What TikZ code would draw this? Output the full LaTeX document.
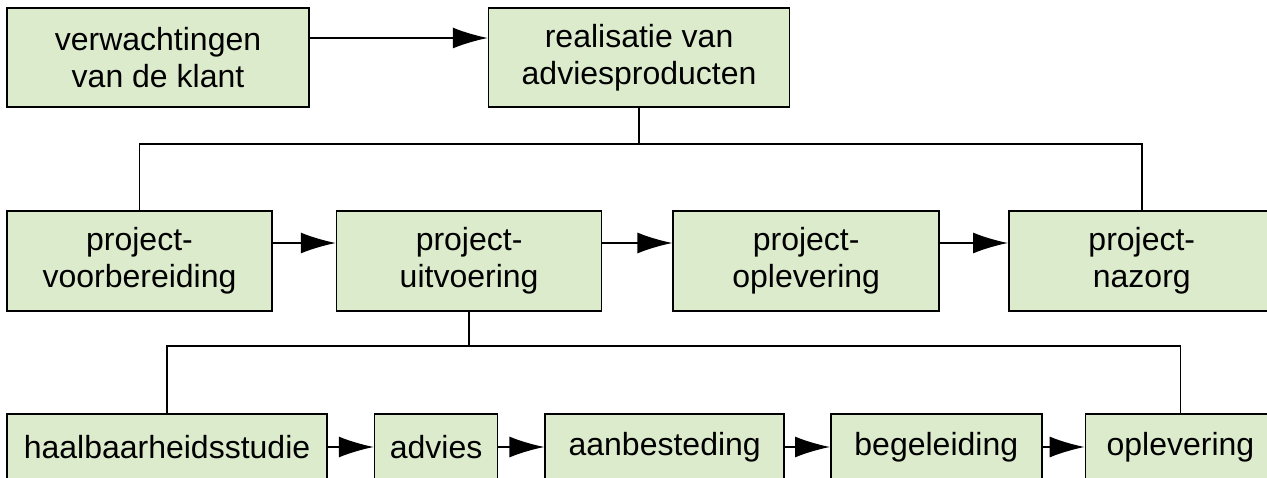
\documentclass[tikz,border=0pt]{standalone}
\usepackage{fontspec}
\setmainfont{Liberation Sans}
\usetikzlibrary{positioning,arrows.meta}
\definecolor{boxgreen}{RGB}{221,235,205}
\begin{document}
\begin{tikzpicture}[x=1pt, y=-1pt, node distance=63pt]
	\tikzset{b/.style={draw=black, fill=boxgreen, line width=1.6pt, align=center, inner sep=0pt,
		font=\fontsize{32}{37}\selectfont, minimum height=99pt},
	f/.style={-{Latex[length=35pt,width=21pt]}, line width=1.6pt},
	l/.style={line width=1.6pt}};

	\useasboundingbox (0,0) rectangle (1267,478);
	\clip (0,0) rectangle (1267,478);

	% top row
	\node[b, minimum width=302pt] (verw) at (158,57.5) {verwachtingen\\van de klant};
	\node[b, minimum width=301pt, right=178pt of verw] (real) {realisatie van\\adviesproducten};

	% project phases
	\node[b, minimum width=265pt, minimum height=100pt] (voor) at (139.5,261) {project-\\voorbereiding};
	\node[b, minimum width=265pt, minimum height=100pt, right=63pt of voor] (uitv) {project-\\uitvoering};
	\node[b, minimum width=266pt, minimum height=100pt, right=70pt of uitv] (oplv) {project-\\oplevering};
	\node[b, minimum width=266pt, minimum height=100pt, right=68pt of oplv] (naz) {project-\\nazorg};

	% execution steps
	\node[b, minimum width=320pt, minimum height=66pt] (haal) at (167,447) {haalbaarheidsstudie};
	\node[b, minimum width=123pt, minimum height=66pt, right=46pt of haal] (adv) {advies};
	\node[b, minimum width=239pt, minimum height=66pt, right=46pt of adv] (aanb) {aanbesteding};
	\node[b, minimum width=211pt, minimum height=66pt, right=45pt of aanb] (beg) {begeleiding};
	\node[b, minimum width=190pt, minimum height=66pt, right=42pt of beg] (opl) {oplevering};

	\draw[f] ([yshift=19.5pt]verw.east) -- ([yshift=19.5pt]real.west);

	\draw[l] (real.south) -- ++(0,36) -| (voor.north);
	\draw[l] (real.south) -- ++(0,36) -| (naz.north);

	\draw[f] ([yshift=18pt]voor.east) -- ([yshift=18pt]uitv.west);
	\draw[f] ([yshift=18pt]uitv.east) -- ([yshift=18pt]oplv.west);
	\draw[f] ([yshift=18pt]oplv.east) -- ([yshift=18pt]naz.west);

	\draw[l] (uitv.south) -- ++(0,34) -| (haal.north);
	\draw[l] (uitv.south) -- ++(0,34) -| (opl.north);

	\draw[f] (haal) -- (adv);
	\draw[f] (adv) -- (aanb);
	\draw[f] (aanb) -- (beg);
	\draw[f] (beg) -- (opl);
\end{tikzpicture}
\end{document}
